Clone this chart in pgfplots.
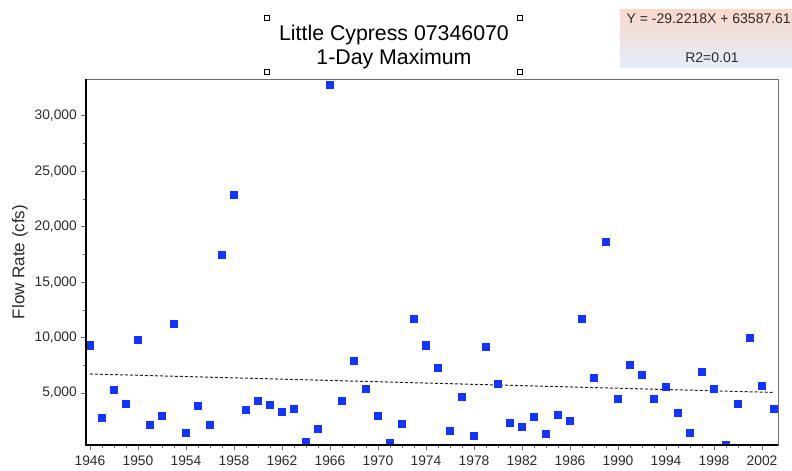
\documentclass[border=0pt]{standalone}
\usepackage{fontspec}
\setmainfont{Liberation Sans}
\usepackage{pgfplots}
\pgfplotsset{compat=1.18}
\definecolor{ptBlue}{HTML}{1434FF}
\definecolor{tickText}{HTML}{2B2B2B}
\definecolor{frameGray}{HTML}{6E6E6E}
\definecolor{boxTop}{HTML}{FAD8CA}
\definecolor{boxMid}{HTML}{ECE6E3}
\definecolor{boxBot}{HTML}{E3EDFC}
\newcommand{\tickfont}{\fontsize{13.8bp}{16bp}\selectfont}

\begin{document}
\begin{tikzpicture}
\path[use as bounding box] (0,0) rectangle (792bp,471bp);
\begin{axis}[
    name=ax,
    at={(86bp,26bp)}, anchor=south west,
    scale only axis, width=692bp, height=366bp,
    xmin=1945.67, xmax=2003.33,
    ymin=316, ymax=33318,
    xtick={1946,1950,...,2002}, minor x tick num=3,
    ytick={5000,10000,...,30000}, minor y tick num=1,
    scaled ticks=false,
    tick pos=left, tick align=outside,
    major tick length=5bp, minor tick length=3bp,
    tick style={frameGray, line width=0.6bp},
    axis line style={frameGray, line width=0.8bp},
    ticklabel style={font=\tickfont, text=tickText},
    /pgf/number format/assume math mode=true,
    xticklabel style={/pgf/number format/1000 sep=, anchor=north, inner sep=0pt, yshift=-6bp},
    yticklabel style={/pgf/number format/fixed, /pgf/number format/1000 sep={,}, anchor=east, inner sep=0pt, xshift=-4bp},
    ylabel={Flow Rate (cfs)},
    every axis y label/.style={at={(axis description cs:-0.0954,0.5)}, rotate=90, anchor=center,
        font=\fontsize{17bp}{19bp}\selectfont, text=tickText},
    clip marker paths=true,
]
% linear trend Y = -29.2218X + 63587.61
\addplot[black!85, line width=1bp, dash pattern=on 3bp off 2bp] coordinates {(1946,6720) (2003,5055)};
\addplot[only marks, mark=square*, mark size=3.6bp, mark options={draw=ptBlue, fill=ptBlue}] coordinates {
(1946,9306) (1947,2750) (1948,5275) (1949,4073) (1950,9812) (1951,2148) (1952,2960) (1953,11226)
(1954,1458) (1955,3862) (1956,2148) (1957,17478) (1958,22918) (1959,3471) (1960,4283) (1961,3983)
(1962,3351) (1963,3562) (1964,646) (1965,1758) (1966,32807) (1967,4283) (1968,7890) (1969,5396)
(1970,2960) (1971,556) (1972,2272) (1973,11707) (1974,9306) (1975,7289) (1976,1638) (1977,4673)
(1978,1127) (1979,9183) (1980,5875) (1981,2360) (1982,1939) (1983,2840) (1984,1337) (1985,3051)
(1986,2540) (1987,11707) (1988,6387) (1989,18680) (1990,4463) (1991,7589) (1992,6687) (1993,4463)
(1994,5575) (1995,3261) (1996,1458) (1997,6898) (1998,5365) (1999,340) (2000,4073) (2001,9993)
(2002,5666) (2003,3562)
};
\end{axis}
\draw[black, line width=1.6bp] (ax.north west) -- (ax.south west) -- (ax.south east);
% title with selection handles
\node[align=center, font=\fontsize{21.3bp}{24bp}\selectfont, text=black] at (394bp,424bp)
    {Little Cypress 07346070\\1-Day Maximum};
\foreach \hx/\hy in {267/453, 520/453, 267/399, 520/399}
    \draw[black, line width=0.5bp, fill=white] (\hx bp-2.5bp,\hy bp-2.5bp) rectangle (\hx bp+2.5bp,\hy bp+2.5bp);
% regression box
\shade[top color=boxTop, middle color=boxMid, bottom color=boxBot] (620bp,403bp) rectangle (792bp,461bp);
\node[anchor=east, font=\fontsize{14bp}{16bp}\selectfont, text=tickText, inner sep=0pt] at (791bp,452bp)
    {Y = -29.2218X + 63587.61};
\node[font=\fontsize{14bp}{16bp}\selectfont, text=tickText, inner sep=0pt] at (712bp,413bp) {R2=0.01};
\end{tikzpicture}
\end{document}
